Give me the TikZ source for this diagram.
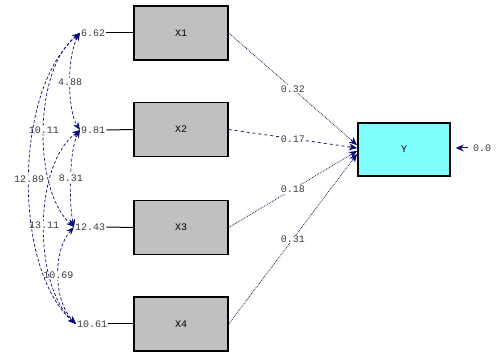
\documentclass[tikz,border=0pt]{standalone}
\usepackage{fontspec}
\newfontfamily\pathfont{Liberation Mono}
\usetikzlibrary{arrows.meta,calc}
\definecolor{boxgray}{RGB}{192,192,192}
\definecolor{endocyan}{RGB}{128,255,255}
\definecolor{linenavy}{RGB}{30,30,90}
\definecolor{tipnavy}{RGB}{10,10,120}
\definecolor{txtgray}{RGB}{60,60,60}
\tikzset{
  lbl/.style={font=\fontsize{10}{11}\selectfont\pathfont, text=txtgray, inner sep=1pt},
  obs/.style={draw=black, line width=1.4pt, fill=boxgray, minimum width=94pt,
              minimum height=54pt, inner sep=0pt, font=\fontsize{10}{11}\selectfont\pathfont},
  endo/.style={obs, fill=endocyan, minimum width=92pt, minimum height=53pt},
  tip/.style={-{Stealth[length=8pt,width=7pt]}, tipnavy},
  cov/.style={{Stealth[length=8pt,width=6pt]}-{Stealth[length=8pt,width=6pt]},
              draw=linenavy, densely dashed, line width=0.7pt, tipnavy},
  dotline/.style={draw=linenavy, densely dotted, line width=0.8pt},
  dashline/.style={draw=linenavy, dashed, line width=0.8pt},
  onlbl/.style={lbl, fill=white}
}
\begin{document}
\begin{tikzpicture}[x=1pt,y=-1pt]
\useasboundingbox (0,0) rectangle (498,352);

% exogenous observed variables
\node[obs] (x1) at (181,33)  {X1};
\node[obs] (x2) at (181,129.5) {X2};
\node[obs] (x3) at (181,227.5) {X3};
\node[obs] (x4) at (181,324) {X4};

% endogenous variable
\node[endo] (y) at (404,149.5) {Y};

% variances
\node[lbl, anchor=west] (v1) at (80,33)  {6.62};
\node[lbl, anchor=west] (v2) at (80,130) {9.81};
\node[lbl, anchor=west] (v3) at (74,227) {12.43};
\node[lbl, anchor=west] (v4) at (76,324) {10.61};
\foreach \i in {1,...,4} \draw[line width=1pt, black] (v\i.east) -- (x\i.west);

% covariances
\draw[cov] (v1.west) .. controls (67,55) and (67,110) .. (v2.west)
  node[onlbl, pos=0.5] {4.88};
\draw[cov] (v2.west) .. controls (69,150) and (69,205) .. (v3.west)
  node[onlbl, pos=0.5] {8.31};
\draw[cov] (v3.west) .. controls (53,250) and (53,300) .. (v4.west)
  node[onlbl, pos=0.5] {10.69};
\draw[cov] (v1.west) .. controls (33,70) and (33,190) .. (v3.west)
  node[onlbl, pos=0.5] {10.11};
\draw[cov] (v2.west) .. controls (33,165) and (33,285) .. (v4.west)
  node[onlbl, pos=0.5] {13.11};
\draw[cov] (v1.west) .. controls (13,90) and (13,270) .. (v4.west)
  node[onlbl, pos=0.5] {12.89};

% structural paths
\coordinate (t1) at (357,145);
\coordinate (t2) at (357,148);
\coordinate (t3) at (357,151);
\coordinate (t4) at (357,154);
\draw[dotline] (x1.east) -- (t1) node[onlbl, pos=0.5] {0.32};
\draw[dashline] (x2.east) -- (t2) node[onlbl, pos=0.5] {0.17};
\draw[dotline] (x3.east) -- (t3) node[onlbl, pos=0.5] {0.18};
\draw[dotline] (x4.east) -- (t4) node[onlbl, pos=0.5] {0.31};
\foreach \i in {1,...,4} \draw[tip, line width=0.8pt] ($(t\i)!8pt!(x\i.east)$) -- (t\i);

% error variance
\node[lbl, anchor=west] (err) at (472,148) {0.0};
\draw[tip, line width=1pt, shorten >=5pt, shorten <=4pt] (err.west) -- (err.west -| y.east);
\end{tikzpicture}
\end{document}
